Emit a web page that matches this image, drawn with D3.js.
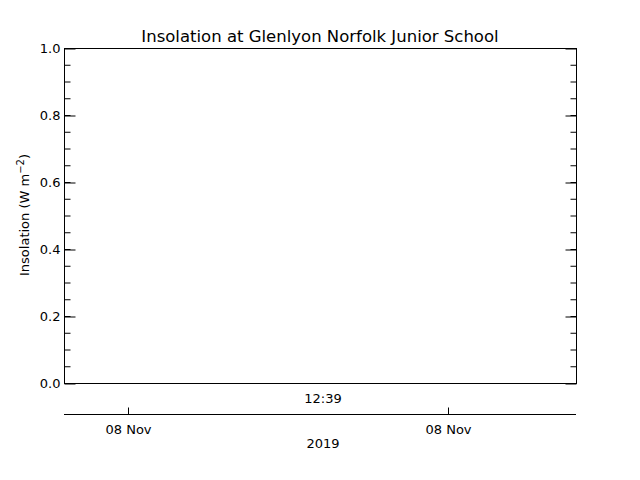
<!DOCTYPE html>
<html>
<head>
<meta charset="utf-8">
<script src="https://cdn.jsdelivr.net/npm/d3@7"></script>
<style>
body { margin: 0; background: #fff; }
text { font-family: "DejaVu Sans", "Liberation Sans", sans-serif; fill: #000; }
</style>
</head>
<body>
<div id="chart"></div>
<script>
// no insolation readings in this window, so the series is empty
var times = [];
var insolation = [];

var yTicks = [0.0, 0.2, 0.4, 0.6, 0.8, 1.0];
var xDomain = [new Date(2019, 10, 8, 12, 38), new Date(2019, 10, 8, 12, 46)];
var xTicks = [new Date(2019, 10, 8, 12, 39), new Date(2019, 10, 8, 12, 44)];
var xTickLabels = ["08 Nov", "08 Nov"];
var timeLabel = "12:39";
var yearLabel = "2019";

var width = 640, height = 480;
var plotLeft = 64, plotRight = 576, plotTop = 48, plotBottom = 383;
var axisY = 414;

var svg = d3.select("#chart")
            .append("svg")
            .attr("width", width)
            .attr("height", height);

var x = d3.scaleTime().domain(xDomain).range([plotLeft, plotRight]);
var y = d3.scaleLinear().domain([0, 1]).range([plotBottom, plotTop]);

// frame
svg.append("rect")
    .attr("x", plotLeft + 0.5)
    .attr("y", plotTop + 0.5)
    .attr("width", plotRight - plotLeft)
    .attr("height", plotBottom - plotTop)
    .style("fill", "none")
    .style("stroke", "#000");

// left and right axes, major + minor ticks
var minor = d3.range(0, 1.0001, 0.05);
var leftAxis = d3.axisLeft(y).tickValues(yTicks).tickFormat(d3.format(".1f"))
    .tickSizeInner(-11).tickSizeOuter(0).tickPadding(4);
var g = svg.append("g").attr("transform", "translate(" + (plotLeft + 0.5) + ",0.5)");
g.call(leftAxis);
g.select(".domain").remove();
g.selectAll("text").style("font-size", "13px");
g.selectAll("line").style("stroke", "#000");
g.selectAll(".minor").data(minor).enter().append("line")
    .attr("x1", 0).attr("x2", 6)
    .attr("y1", function(d) { return y(d); })
    .attr("y2", function(d) { return y(d); })
    .style("stroke", "#000");

var rightAxis = d3.axisRight(y).tickValues(yTicks).tickFormat("")
    .tickSizeInner(-11).tickSizeOuter(0);
var g2 = svg.append("g").attr("transform", "translate(" + (plotRight + 0.5) + ",0.5)");
g2.call(rightAxis);
g2.select(".domain").remove();
g2.selectAll("line").style("stroke", "#000");
g2.selectAll(".minor").data(minor).enter().append("line")
    .attr("x1", 0).attr("x2", -6)
    .attr("y1", function(d) { return y(d); })
    .attr("y2", function(d) { return y(d); })
    .style("stroke", "#000");

// data line (empty)
var line = d3.line()
    .x(function(d, i) { return x(times[i]); })
    .y(function(d) { return y(d); });
svg.append("path")
    .datum(insolation)
    .attr("d", line)
    .style("fill", "none")
    .style("stroke", "#000");

// separate time axis below the frame
var xAxis = d3.axisTop(x).tickValues(xTicks)
    .tickFormat(function() { return ""; })
    .tickSizeInner(7).tickSizeOuter(0);
var gx = svg.append("g").attr("transform", "translate(0," + (axisY + 0.5) + ")");
gx.call(xAxis);
gx.select(".domain").attr("d", "M" + plotLeft + ",0H" + plotRight).style("stroke", "#000");
gx.selectAll("line").style("stroke", "#000");
gx.selectAll(".tick").append("text")
    .attr("y", 19)
    .attr("text-anchor", "middle")
    .style("font-size", "13px")
    .text(function(d, i) { return xTickLabels[i]; });

svg.append("text")
    .attr("x", (plotLeft + plotRight) / 2 + 3)
    .attr("y", 403)
    .attr("text-anchor", "middle")
    .style("font-size", "13px")
    .text(timeLabel);

svg.append("text")
    .attr("x", (plotLeft + plotRight) / 2 + 3)
    .attr("y", 448)
    .attr("text-anchor", "middle")
    .style("font-size", "13px")
    .text(yearLabel);

// title
svg.append("text")
    .attr("x", (plotLeft + plotRight) / 2)
    .attr("y", 42)
    .attr("text-anchor", "middle")
    .style("font-size", "16.5px")
    .text("Insolation at Glenlyon Norfolk Junior School");

// y label
var yl = svg.append("text")
    .attr("transform", "translate(29,215) rotate(-90)")
    .attr("text-anchor", "middle")
    .style("font-size", "13px");
yl.append("tspan").text("Insolation (W m");
yl.append("tspan").attr("dy", -5).style("font-size", "10px").text("\u22122");
yl.append("tspan").attr("dy", 5).text(")");
</script>
</body>
</html>
